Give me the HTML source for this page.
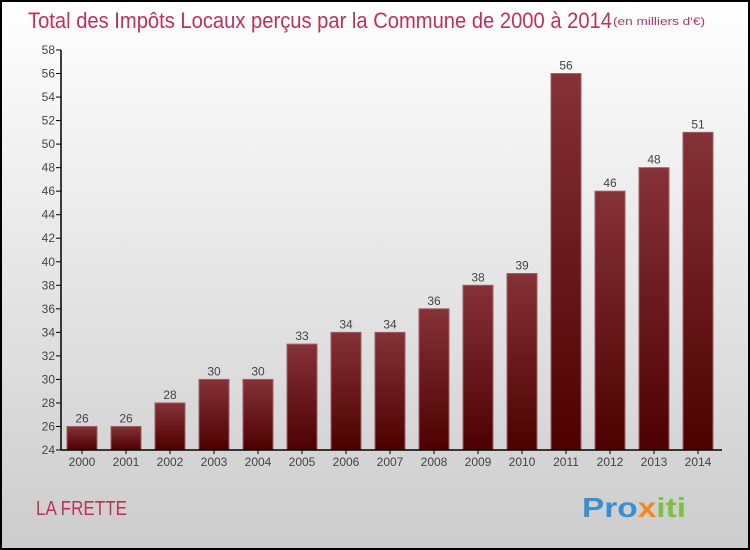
<!DOCTYPE html>
<html><head><meta charset="utf-8"><style>
body{margin:0;width:750px;height:550px;overflow:hidden}
svg{display:block;font-family:"Liberation Sans","DejaVu Sans",sans-serif}
</style></head><body>
<svg id="c" width="750" height="550">
<defs>
<linearGradient id="bg" x1="0" y1="0" x2="0" y2="1"><stop offset="0" stop-color="#ffffff"/><stop offset="1" stop-color="#cccccc"/></linearGradient>
<linearGradient id="bar" x1="0" y1="0" x2="0" y2="1"><stop offset="0" stop-color="#843236"/><stop offset="1" stop-color="#4e0000"/></linearGradient>
</defs>
<rect x="1" y="1" width="748" height="548" fill="url(#bg)" stroke="#000" stroke-width="2"/>
<text x="28" y="28" font-size="22" fill="#c0305a" textLength="584" lengthAdjust="spacingAndGlyphs">Total des Impôts Locaux perçus par la Commune de 2000 à 2014</text>
<text x="613" y="25" font-size="11" fill="#c0305a" textLength="92" lengthAdjust="spacingAndGlyphs">(en milliers d'€)</text>
<text x="36" y="515" font-size="20" fill="#c0305a" textLength="91" lengthAdjust="spacingAndGlyphs">LA FRETTE</text>
<text x="582" y="517" font-size="28" font-weight="bold" textLength="104" lengthAdjust="spacingAndGlyphs"><tspan fill="#3a8fd0">Pro</tspan><tspan fill="#f08a1c">x</tspan><tspan fill="#7cc242">iti</tspan></text>
<g id="g"></g>
</svg>
<script>
const years=["2000","2001","2002","2003","2004","2005","2006","2007","2008","2009","2010","2011","2012","2013","2014"];
const values=[26,26,28,30,30,33,34,34,36,38,39,56,46,48,51];
const yTicks=[24,26,28,30,32,34,36,38,40,42,44,46,48,50,52,54,56,58];
const NS="http://www.w3.org/2000/svg";
const g=document.getElementById('g');
const y=v=>450-(v-24)*400/34;
const x=i=>82+i*44;
function mk(t,a,txt){const e=document.createElementNS(NS,t);for(const k in a)e.setAttribute(k,a[k]);if(txt!=null)e.textContent=txt;g.appendChild(e);return e;}
yTicks.forEach(v=>{
 const l=mk('line',{x1:56,x2:61,y1:y(v),y2:y(v),stroke:'#000'});
 
 
 const t=mk('text',{x:55,y:y(v)+4,'text-anchor':'end','font-size':12,fill:'#444'},v);
 
 
});
values.forEach((v,i)=>{
 const r=mk('rect',{x:x(i)-15,y:y(v),width:30,height:450-y(v),fill:'url(#bar)',stroke:'#a06068','stroke-width':1});
 
 
 const t=mk('text',{x:x(i),y:y(v)-4,'text-anchor':'middle','font-size':12,fill:'#444'},v);
 
 
 const tk=mk('line',{x1:x(i),x2:x(i),y1:450,y2:454,stroke:'#000'});
 
 
 const xl=mk('text',{x:x(i),y:466,'text-anchor':'middle','font-size':12,fill:'#444'},years[i]);
 
 
});
const ya=mk('line',{x1:61,x2:61,y1:y(58),y2:450,stroke:'#000','stroke-width':1.5});


const xa=mk('line',{x1:61,x2:722,y1:450,y2:450,stroke:'#000','stroke-width':1.5});


</script>
</body></html>
